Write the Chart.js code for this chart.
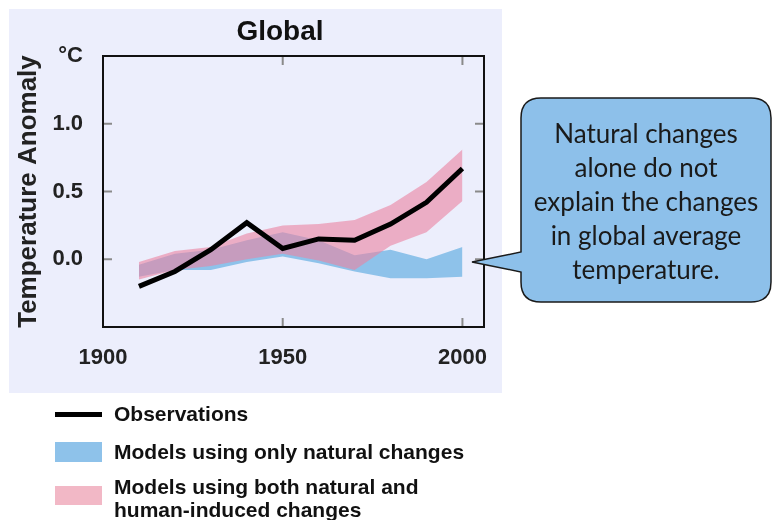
<!DOCTYPE html>
<html>
<head>
<meta charset="utf-8">
<script src="https://cdn.jsdelivr.net/npm/chart.js@4/dist/chart.umd.min.js"></script>
<style>
  body { margin: 0; width: 772px; height: 520px; background: #fff; position: relative; overflow: hidden;
         font-family: "Liberation Sans", Arial, sans-serif; }
  #panel { position: absolute; left: 9px; top: 9px; width: 493px; height: 384px; background: #eceefc; }
  #title { position: absolute; left: 180px; top: 15px; width: 200px; text-align: center;
           font: bold 28px "Liberation Sans", Arial, sans-serif; line-height: 32px; color: #111; }
  #callout { position: absolute; left: 0; top: 0; }
  .bubble-text { position: absolute; left: 521px; top: 116px; width: 250px; text-align: center;
                 font: 26px Lato, "Open Sans", sans-serif; line-height: 34px; color: #1a1a1a; }
  .leg { position: absolute; font: bold 21px "Liberation Sans", Arial, sans-serif; color: #111; line-height: 23px; }
  .sw { position: absolute; left: 55px; width: 47px; }
</style>
</head>
<body>
<div id="panel"><canvas id="globalChart" width="493" height="384"></canvas></div>
<div id="title">Global</div>

<svg id="callout" width="772" height="520">
  <path d="M 541 98 H 751 Q 771 98 771 118 V 282 Q 771 302 751 302 H 541 Q 521 302 521 282 V 272 L 472 262 L 521 252 V 118 Q 521 98 541 98 Z"
        fill="#8dc0ea" stroke="#1a1a1a" stroke-width="1.5"/>
</svg>
<div class="bubble-text">Natural changes<br>alone do not<br>explain the changes<br>in global average<br>temperature.</div>

<div class="sw" style="top:412px;height:5px;background:#000"></div>
<div class="leg" style="left:114px;top:402px">Observations</div>
<div class="sw" style="top:442px;height:20px;background:#8ec2ea"></div>
<div class="leg" style="left:114px;top:440px">Models using only natural changes</div>
<div class="sw" style="top:486px;height:19px;background:#f2b8c6"></div>
<div class="leg" style="left:114px;top:475px">Models using both natural and<br>human-induced changes</div>

<script>
// decades
const years = [1910, 1920, 1930, 1940, 1950, 1960, 1970, 1980, 1990, 2000];
// observed anomaly, deg C
const observations = [-0.20, -0.09, 0.07, 0.27, 0.08, 0.15, 0.14, 0.26, 0.42, 0.67];
// natural-only model range
const naturalLow  = [-0.13, -0.08, -0.08, -0.02, 0.02, -0.03, -0.09, -0.14, -0.14, -0.13];
const naturalHigh = [-0.04, 0.04, 0.07, 0.14, 0.20, 0.14, 0.03, 0.07, 0.00, 0.09];
// natural + human model range
const bothLow  = [-0.15, -0.08, -0.05, 0.00, 0.04, -0.01, -0.08, 0.10, 0.20, 0.43];
const bothHigh = [-0.02, 0.06, 0.09, 0.19, 0.25, 0.26, 0.29, 0.40, 0.57, 0.81];

const xTickYears = [1900, 1950, 2000];
const yTickValues = [-0.5, 0, 0.5, 1.0, 1.5];
const yTickLabels = ['', '0.0', '0.5', '1.0', '°C'];

const xMin = 1900, xMax = 2006, yMin = -0.5, yMax = 1.5;

function pts(arr) {
    return years.map((yr, i) => ({ x: yr, y: arr[i] }));
}

// box round the plot + small inward tick marks
const frameTicks = {
    id: 'frameTicks',
    afterDatasetsDraw(chart) {
        const { ctx, chartArea: a, scales } = chart;
        const x = scales.x, y = scales.y;
        ctx.save();
        ctx.strokeStyle = '#8a8a8a';
        ctx.lineWidth = 2;
        ctx.beginPath();
        y.ticks.forEach(t => {
            if (t.value <= yMin || t.value >= yMax) return;
            const py = y.getPixelForValue(t.value);
            ctx.moveTo(a.left, py); ctx.lineTo(a.left + 9, py);
            ctx.moveTo(a.right - 9, py); ctx.lineTo(a.right, py);
        });
        x.ticks.forEach(t => {
            if (t.value <= xMin || t.value >= xMax) return;
            const px = x.getPixelForValue(t.value);
            ctx.moveTo(px, a.top); ctx.lineTo(px, a.top + 9);
            ctx.moveTo(px, a.bottom - 9); ctx.lineTo(px, a.bottom);
        });
        ctx.stroke();
        ctx.strokeStyle = '#111';
        ctx.lineWidth = 2;
        ctx.strokeRect(a.left, a.top, a.width, a.height);
        ctx.restore();
    }
};

const tickFont = { family: '"Liberation Sans", Arial, sans-serif', size: 22, weight: 'bold' };

new Chart(document.getElementById('globalChart'), {
    type: 'line',
    data: {
        datasets: [
            { label: 'Observations', data: pts(observations), order: 0,
              borderColor: '#000', borderWidth: 5, borderJoinStyle: 'miter', pointRadius: 0, fill: false },
            { label: 'natural low', data: pts(naturalLow), order: 3,
              borderColor: 'transparent', borderWidth: 0, pointRadius: 0, fill: false },
            { label: 'Models using only natural changes', data: pts(naturalHigh), order: 2,
              borderColor: 'transparent', borderWidth: 0, pointRadius: 0,
              fill: '-1', backgroundColor: '#8ec2ea' },
            { label: 'both low', data: pts(bothLow), order: 3,
              borderColor: 'transparent', borderWidth: 0, pointRadius: 0, fill: false },
            { label: 'Models using both natural and human-induced changes', data: pts(bothHigh), order: 1,
              borderColor: 'transparent', borderWidth: 0, pointRadius: 0,
              fill: '-1', backgroundColor: 'rgba(235,130,160,0.6)' }
        ]
    },
    options: {
        responsive: false,
        animation: false,
        devicePixelRatio: 1,
        layout: { padding: { left: 0, top: 47, right: 18, bottom: 0 } },
        plugins: {
            legend: { display: false },
            tooltip: { enabled: false }
        },
        scales: {
            x: {
                type: 'linear', min: xMin, max: xMax,
                afterBuildTicks: s => { s.ticks = xTickYears.map(v => ({ value: v })); },
                afterFit: s => { s.height = 66; },
                grid: { display: false },
                border: { display: false },
                ticks: { font: tickFont, color: '#222', padding: 10, maxRotation: 0,
                         callback: v => String(v) }
            },
            y: {
                min: yMin, max: yMax,
                afterBuildTicks: s => { s.ticks = yTickValues.map(v => ({ value: v })); },
                afterFit: s => { s.width = 94; },
                grid: { display: false },
                border: { display: false },
                ticks: { font: tickFont, color: '#222', padding: 12,
                         callback: v => yTickLabels[yTickValues.indexOf(v)] },
                title: { display: true, text: 'Temperature Anomaly', color: '#222',
                         font: { family: '"Liberation Sans", Arial, sans-serif', size: 26, weight: 'bold' },
                         padding: { top: 4, bottom: 0 } }
            }
        }
    },
    plugins: [frameTicks]
});
</script>
</body>
</html>
